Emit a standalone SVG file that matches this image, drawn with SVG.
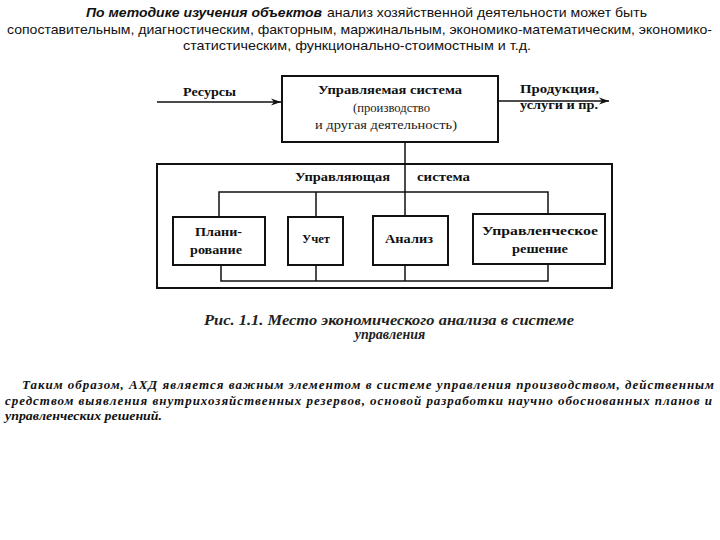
<svg xmlns="http://www.w3.org/2000/svg" width="720" height="540" viewBox="0 0 720 540">
<defs>
<style>
.top{font-family:"Liberation Sans",Arial,sans-serif;font-size:13px;fill:#111}
.topb{font-family:"Liberation Sans",Arial,sans-serif;font-size:13px;font-weight:bold;font-style:italic;fill:#111}
.lb{font-family:"Liberation Serif","Times New Roman",serif;font-size:12.5px;font-weight:bold;fill:#111}
.ln{font-family:"Liberation Serif","Times New Roman",serif;font-size:12.5px;fill:#222}
.cap{font-family:"Liberation Serif","Times New Roman",serif;font-size:14px;font-weight:bold;font-style:italic;fill:#222}
.par{font-family:"Liberation Serif","Times New Roman",serif;font-size:13px;font-weight:bold;font-style:italic;fill:#111}
.box{fill:#fff;stroke:#111;stroke-width:2}
.con{fill:none;stroke:#111;stroke-width:1.5}
</style>
<marker id="ah" viewBox="0 0 10 8" refX="10" refY="4" markerWidth="10" markerHeight="8" markerUnits="userSpaceOnUse" orient="auto">
<path d="M0,0.5 L10,4 L0,7.5 L3,4 Z" fill="#111"/>
</marker>
</defs>

<g id="intro">
<text class="topb" x="86" y="17" textLength="236" lengthAdjust="spacingAndGlyphs">По методике изучения объектов</text>
<text class="top" x="327" y="17" textLength="320" lengthAdjust="spacingAndGlyphs">анализ хозяйственной деятельности может быть</text>
<text class="top" x="7" y="34" textLength="705" lengthAdjust="spacingAndGlyphs">сопоставительным, диагностическим, факторным, маржинальным, экономико-математическим, экономико-</text>
<text class="top" x="183" y="50" textLength="348" lengthAdjust="spacingAndGlyphs">статистическим, функционально-стоимостным и т.д.</text>
</g>

<g id="outer-system">
<rect class="box" x="157" y="164" width="455" height="124"/>
<text class="lb" x="295" y="181" textLength="95" lengthAdjust="spacingAndGlyphs">Управляющая</text>
<text class="lb" x="417" y="181" textLength="53" lengthAdjust="spacingAndGlyphs">система</text>
</g>

<g id="connectors">
<line class="con" x1="157" y1="102" x2="281" y2="102" marker-end="url(#ah)"/>
<line class="con" x1="498" y1="101" x2="609" y2="101" marker-end="url(#ah)"/>
<polyline class="con" points="405,142 405,216"/>
<polyline class="con" points="219,217 219,192 548,192 548,214"/>
<line class="con" x1="316" y1="192" x2="316" y2="217"/>
<polyline class="con" points="221,265 221,281 548,281 548,264"/>
<line class="con" x1="316" y1="265" x2="316" y2="281"/>
<line class="con" x1="405" y1="265" x2="405" y2="281"/>
</g>

<g id="resources">
<text class="lb" x="183" y="96" textLength="53" lengthAdjust="spacingAndGlyphs">Ресурсы</text>
</g>

<g id="managed-system">
<rect class="box" x="282" y="76" width="216" height="66"/>
<text class="lb" x="318" y="94" textLength="144" lengthAdjust="spacingAndGlyphs">Управляемая система</text>
<text class="ln" x="353" y="112" textLength="77" lengthAdjust="spacingAndGlyphs">(производство</text>
<text class="ln" x="315" y="129" textLength="142" lengthAdjust="spacingAndGlyphs">и другая деятельность)</text>
</g>

<g id="output">
<text class="lb" x="520" y="93" textLength="79" lengthAdjust="spacingAndGlyphs">Продукция,</text>
<text class="lb" x="520" y="109" textLength="78" lengthAdjust="spacingAndGlyphs">услуги и пр.</text>
</g>

<g id="planning">
<rect class="box" x="173" y="217" width="92" height="48"/>
<text class="lb" x="195" y="236" textLength="47" lengthAdjust="spacingAndGlyphs">Плани-</text>
<text class="lb" x="190" y="254" textLength="52" lengthAdjust="spacingAndGlyphs">рование</text>
</g>

<g id="accounting">
<rect class="box" x="288" y="217" width="55" height="48"/>
<text class="lb" x="302" y="243" textLength="28" lengthAdjust="spacingAndGlyphs">Учет</text>
</g>

<g id="analysis">
<rect class="box" x="373" y="216" width="75" height="49"/>
<text class="lb" x="385" y="243" textLength="48" lengthAdjust="spacingAndGlyphs">Анализ</text>
</g>

<g id="decision">
<rect class="box" x="473" y="214" width="132" height="50"/>
<text class="lb" x="482" y="235" textLength="116" lengthAdjust="spacingAndGlyphs">Управленческое</text>
<text class="lb" x="512" y="253" textLength="56" lengthAdjust="spacingAndGlyphs">решение</text>
</g>

<g id="caption">
<text class="cap" x="204" y="325" textLength="370" lengthAdjust="spacingAndGlyphs">Рис. 1.1. Место экономического анализа в системе</text>
<text class="cap" x="390" y="339" text-anchor="middle">управления</text>
</g>

<g id="conclusion">
<text class="par" x="22" y="389" textLength="692" lengthAdjust="spacing">Таким образом, АХД является важным элементом в системе управления производством, действенным</text>
<text class="par" x="5" y="405" textLength="707" lengthAdjust="spacing">средством выявления внутрихозяйственных резервов, основой разработки научно обоснованных планов и</text>
<text class="par" x="5" y="420" textLength="157" lengthAdjust="spacingAndGlyphs">управленческих решений.</text>
</g>
</svg>
